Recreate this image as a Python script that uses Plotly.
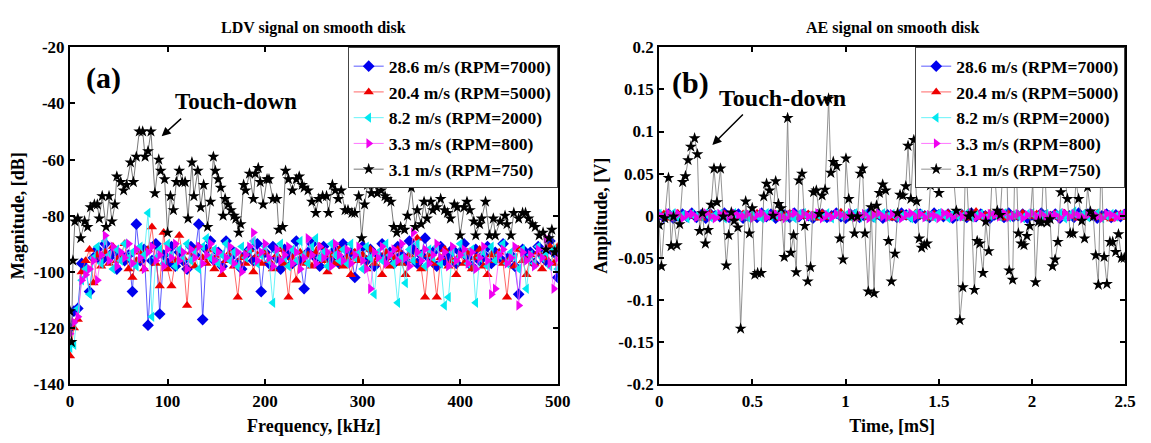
import numpy as np
import plotly.graph_objects as go

# ---------------- Panel (a): LDV spectrum ----------------
ldv_freq_k = [0, 1.5, 3, 5, 8, 11, 15, 18, 21, 25, 28, 30, 33, 37, 40, 43, 46, 48, 52, 55, 58, 62, 65, 68, 71,
              74.5, 77, 80, 83, 87, 91, 93, 97, 100, 103, 106, 109, 112, 115, 118, 121, 125, 127, 131, 134, 137,
              141, 144, 147, 149, 152, 154.5, 157, 159, 162, 165, 168, 170, 173, 175, 178, 180, 184, 188, 190,
              193, 195, 198, 202, 204, 208, 212, 214, 218, 221, 224, 228, 232, 235, 238, 240, 244, 248, 252, 255,
              259, 263, 265, 269, 272, 275, 278, 282, 285, 289, 292, 296, 299, 302, 305, 309, 312, 315, 319, 323,
              325, 329, 332, 335, 339, 343, 346, 350, 354, 356, 360, 363, 366, 370, 372, 376, 380, 384, 387, 390,
              394, 397, 400, 404, 407, 410, 414, 416, 420, 422, 426, 430, 434, 436, 441, 446, 448, 452, 455, 460,
              464, 467, 470, 474, 477, 481, 485, 488, 491, 494, 497, 500]
ldv_mag_k = [-114, -125, -96, -82, -81, -88, -82, -84, -77, -76, -76, -81, -73, -84, -73, -82, -76, -66, -68, -71,
             -69, -61, -68, -59, -50, -50, -59, -57, -50, -72, -60, -64, -67, -86, -73, -78, -68, -64, -68, -68,
             -81, -61, -73, -64, -77, -69, -84, -75, -59, -64, -67, -70, -80, -74, -76, -78, -80, -81, -86, -83,
             -69, -71, -65, -74, -65, -63, -68, -76, -67, -67, -74, -74, -85, -84, -64, -67, -71, -67, -66, -69,
             -70, -71, -75, -79, -74, -73, -73, -79, -69, -71, -74, -71, -78, -78, -79, -79, -73, -88, -76, -69,
             -72, -69, -72, -71, -73, -74, -75, -84, -86, -84, -85, -80, -70, -84, -78, -83, -75, -81, -75, -78,
             -77, -74, -78, -79, -81, -76, -77, -87, -77, -75, -78, -82, -87, -83, -81, -75, -87, -81, -87, -82,
             -80, -83, -87, -79, -81, -79, -79, -81, -83, -84, -87, -86, -92, -88, -85, -93, -92]

ldv_mag_b = [-120, -114, -113, -97, -99, -107, -95, -92, -96, -90, -95, -93, -99, -94, -96, -94, -107, -83, -96,
             -92, -119, -96, -90, -115, -94, -97, -91, -98, -93, -96, -99, -91, -94, -83, -117, -92, -89, -96, -93,
             -98, -89, -95, -93, -97, -99, -94, -92, -96, -90, -107, -93, -97, -91, -95, -99, -92, -94, -97, -89,
             -96, -106, -93, -90, -95, -98, -91, -94, -96, -92, -97, -90, -95, -93, -102, -94, -91, -96, -92, -98,
             -94, -90, -95, -93, -97, -91, -94, -96, -89, -92, -97, -94, -88, -95, -93, -98, -91, -96, -94, -92,
             -97, -93, -90, -95, -98, -92, -96, -94, -91, -97, -93, -95, -90, -96, -94, -98, -108, -92, -95, -93,
             -97, -91, -94, -96, -89, -93, -102]
ldv_mag_r = [-130, -120, -117, -100, -96, -92, -104, -94, -98, -93, -97, -91, -96, -94, -90, -99, -102, -96, -93,
             -99, -92, -84, -97, -105, -86, -99, -105, -96, -87, -95, -112, -93, -98, -91, -95, -97, -92, -99, -94,
             -101, -96, -93, -98, -109, -95, -97, -92, -100, -94, -97, -93, -96, -99, -94, -92, -97, -109, -95,
             -103, -93, -97, -94, -98, -93, -91, -96, -100, -94, -97, -92, -98, -95, -101, -93, -96, -94, -99, -92,
             -97, -95, -101, -93, -98, -95, -92, -97, -101, -94, -96, -88, -99, -109, -94, -97, -109, -95, -92,
             -98, -96, -101, -94, -97, -93, -99, -95, -92, -98, -101, -94, -96, -93, -97, -109, -95, -98, -92, -96,
             -101, -94, -97, -93, -99, -95, -91, -97, -91]
ldv_mag_c = [-127, -126, -113, -103, -99, -108, -95, -91, -97, -89, -94, -99, -92, -96, -90, -95, -93, -98, -91,
             -94, -79, -116, -95, -92, -97, -90, -94, -98, -92, -95, -90, -96, -93, -99, -91, -88, -95, -92, -97,
             -94, -90, -96, -93, -98, -91, -95, -92, -89, -97, -94, -91, -96, -111, -93, -90, -95, -98, -92, -96,
             -89, -94, -97, -91, -88, -95, -93, -98, -90, -94, -96, -92, -97, -90, -95, -93, -99, -91, -95, -108,
             -93, -96, -90, -94, -97, -111, -95, -104, -92, -96, -90, -94, -98, -92, -95, -91, -97, -112, -109, -93,
             -96, -90, -94, -97, -92, -111, -95, -93, -98, -91, -96, -94, -90, -97, -93, -95, -99, -92, -106, -94,
             -97, -91, -95, -93, -98, -92, -99]
ldv_mag_m = [-122, -118, -116, -103, -101, -99, -96, -103, -94, -87, -96, -91, -98, -93, -95, -90, -97, -92, -95,
             -99, -93, -91, -96, -94, -98, -92, -95, -90, -96, -93, -99, -92, -95, -91, -97, -94, -90, -96, -93,
             -99, -95, -91, -97, -93, -100, -94, -91, -86, -96, -93, -90, -95, -98, -92, -96, -94, -91, -97, -93,
             -99, -95, -88, -94, -97, -91, -95, -93, -98, -90, -94, -96, -92, -97, -94, -91, -96, -99, -106, -93,
             -95, -91, -97, -94, -92, -96, -90, -95, -98, -86, -93, -96, -92, -97, -94, -90, -95, -93, -98, -91,
             -96, -94, -92, -97, -93, -99, -95, -91, -96, -108, -106, -94, -92, -97, -95, -91, -112, -93, -96, -94,
             -98, -92, -95, -88, -97, -106, -95]

# ---------------- Panel (b): AE time signal ----------------
ae_time_k = [0, 0.012, 0.03, 0.05, 0.064, 0.077, 0.095, 0.11, 0.126, 0.141, 0.155, 0.17, 0.19, 0.205, 0.217, 0.232,
             0.248, 0.263, 0.279, 0.294, 0.31, 0.329, 0.344, 0.36, 0.373, 0.387, 0.402, 0.422, 0.437, 0.464, 0.484,
             0.499, 0.513, 0.528, 0.547, 0.561, 0.576, 0.592, 0.611, 0.625, 0.64, 0.654, 0.671, 0.689, 0.706, 0.721,
             0.735, 0.75, 0.766, 0.781, 0.797, 0.812, 0.828, 0.843, 0.859, 0.874, 0.89, 0.909, 0.921, 0.934, 0.952,
             0.969, 0.986, 1.002, 1.017, 1.033, 1.048, 1.064, 1.079, 1.091, 1.104, 1.122, 1.137, 1.153, 1.166, 1.182,
             1.199, 1.215, 1.23, 1.246, 1.265, 1.279, 1.292, 1.307, 1.323, 1.335, 1.35, 1.366, 1.381, 1.395, 1.408,
             1.422, 1.437, 1.455, 1.47, 1.486, 1.501, 1.516, 1.532, 1.547, 1.563, 1.578, 1.594, 1.613, 1.629, 1.644,
             1.66, 1.675, 1.691, 1.706, 1.72, 1.737, 1.752, 1.768, 1.785, 1.799, 1.814, 1.83, 1.845, 1.861, 1.878,
             1.896, 1.911, 1.927, 1.942, 1.957, 1.973, 1.988, 2.004, 2.019, 2.035, 2.05, 2.066, 2.081, 2.097, 2.11,
             2.124, 2.139, 2.155, 2.172, 2.19, 2.205, 2.22, 2.236, 2.25, 2.267, 2.282, 2.298, 2.313, 2.329, 2.342,
             2.356, 2.371, 2.387, 2.402, 2.418, 2.433, 2.449, 2.464, 2.48, 2.495]
ae_amp_k = [-0.011, -0.06, -0.003, 0.045, -0.036, -0.001, -0.035, -0.01, 0.04, 0.047, 0.066, 0.082, 0.092, 0.073,
            -0.018, 0.003, -0.033, -0.017, 0.013, 0.056, 0.016, 0.056, -0.001, -0.059, -0.023, 0.004, -0.006, -0.014,
            -0.134, 0.017, -0.021, 0.009, -0.07, -0.068, -0.068, 0.023, 0.038, 0.03, 0.0, 0.041, 0.014, 0.009,
            -0.049, 0.116, -0.044, -0.023, -0.067, 0.042, 0.05, -0.012, -0.078, -0.061, 0.028, 0.03, 0.002, 0.024,
            0.031, 0.139, 0.051, 0.064, 0.059, -0.027, -0.052, 0.068, 0.02, -0.001, -0.021, -0.001, 0.05, 0.056,
            -0.021, -0.09, 0.01, -0.092, 0.012, 0.027, 0.037, 0.03, -0.03, -0.078, -0.045, 0.003, 0.025, 0.024,
            0.035, 0.083, 0.02, 0.09, 0.017, -0.027, -0.038, -0.035, -0.033, 0.036, 0.061, 0.042, 0.027, 0.069,
            0.046, 0.058, 0.046, 0.05, 0.006, -0.124, -0.085, 0.072, -0.001, 0.003, -0.088, -0.03, -0.033, -0.068,
            -0.007, -0.042, 0.042, 0.053, 0.006, 0.001, 0.06, 0.09, -0.065, -0.076, 0.095, -0.021, -0.033, -0.035,
            -0.024, -0.012, 0.04, -0.079, -0.007, -0.008, 0.072, -0.008, -0.004, -0.06, -0.052, -0.031, 0.028, 0.056,
            0.02, -0.021, -0.021, 0.042, 0.02, -0.006, -0.027, 0.034, 0.005, -0.001, -0.047, -0.082, 0.073, -0.049,
            -0.081, -0.031, -0.031, -0.043, -0.022, -0.05, -0.05]

ae_amp_b = [0.001, -0.002, 0.002, -0.003, 0.000, 0.002, -0.001, 0.003, -0.002, 0.001, -0.003, 0.002, 0.000, -0.001,
            0.003, -0.002, 0.001, 0.002, -0.003, 0.000, 0.001, -0.002, 0.003, -0.001, 0.002, -0.003, 0.000, 0.001,
            -0.002, 0.003, -0.001, 0.002, 0.000, -0.003, 0.001, 0.002, -0.002, 0.000, 0.003, -0.001, -0.003, 0.002,
            0.001, -0.002, 0.000, 0.003, -0.001, 0.002, -0.003, 0.001, 0.000, -0.002, 0.003, 0.001, -0.001, -0.003,
            0.002, 0.000, -0.002, 0.003, 0.001, -0.001, 0.002, -0.003, 0.000, 0.001, -0.002, 0.003, -0.001, 0.002,
            0.000, -0.003, 0.001, 0.002, -0.002, 0.003, -0.001, 0.000, 0.002, -0.003, 0.001, -0.002, 0.003, 0.000,
            -0.001, 0.002, -0.003, 0.001, 0.000, -0.002, 0.003, -0.001, 0.002, 0.001, -0.003, 0.000, 0.002, -0.002,
            0.001, -0.001, 0.002]
ae_amp_r = [-0.001, 0.002, -0.003, 0.001, 0.003, -0.002, 0.000, 0.002, -0.001, -0.003, 0.001, 0.003, -0.002, 0.000,
            0.002, -0.001, 0.001, -0.003, 0.002, 0.000, -0.002, 0.003, 0.001, -0.001, 0.000, 0.002, -0.003, 0.001,
            0.003, -0.002, 0.000, -0.001, 0.002, 0.001, -0.003, 0.003, -0.002, 0.000, 0.001, 0.004, -0.001, 0.002,
            -0.003, 0.000, 0.001, -0.002, 0.003, -0.001, 0.002, 0.000, -0.003, 0.001, 0.002, -0.002, 0.000, 0.003,
            -0.001, 0.001, -0.003, 0.002, 0.000, -0.002, 0.003, 0.001, -0.001, 0.002, -0.003, 0.000, 0.005, -0.002,
            0.001, 0.003, -0.001, 0.000, -0.003, 0.002, 0.001, -0.002, 0.003, 0.000, -0.001, 0.002, -0.003, 0.001,
            0.000, 0.002, -0.002, 0.003, -0.001, 0.001, -0.003, 0.000, 0.002, -0.001, 0.003, -0.002, 0.001, -0.004,
            0.000, 0.002, -0.002]
ae_amp_c = [0.002, -0.001, 0.000, 0.003, -0.002, 0.001, -0.003, 0.002, 0.000, -0.001, 0.003, -0.002, 0.001, 0.002,
            -0.003, 0.000, 0.003, -0.001, 0.001, -0.002, 0.002, 0.000, -0.003, 0.003, -0.001, 0.001, 0.002, -0.002,
            0.000, -0.003, 0.002, 0.003, -0.001, 0.000, 0.001, -0.002, 0.003, -0.003, 0.002, 0.000, 0.001, -0.001,
            0.003, -0.002, 0.002, 0.000, -0.003, 0.001, 0.003, -0.001, 0.002, -0.002, 0.000, 0.001, -0.003, 0.003,
            0.002, -0.001, 0.000, -0.002, 0.003, 0.001, -0.003, 0.002, 0.000, -0.001, 0.003, -0.002, 0.001, 0.002,
            -0.003, 0.000, 0.002, -0.001, 0.003, -0.002, 0.001, 0.000, -0.003, 0.002, 0.003, -0.001, 0.000, 0.002,
            -0.002, 0.001, 0.003, -0.003, 0.000, 0.005, -0.001, 0.002, -0.002, 0.001, 0.003, -0.003, 0.000, 0.002,
            -0.001, 0.001, 0.000]
ae_amp_m = [0.001, -0.002, 0.003, -0.001, 0.002, -0.003, 0.001, 0.002, -0.002, 0.000, 0.003, -0.001, -0.003, 0.002,
            0.001, -0.002, 0.003, 0.000, -0.001, 0.002, -0.003, 0.001, 0.003, -0.002, 0.000, 0.002, -0.001, -0.003,
            0.001, 0.003, -0.002, 0.002, -0.001, 0.000, 0.003, -0.003, 0.001, -0.002, 0.002, 0.001, -0.001, 0.003,
            -0.002, 0.000, 0.002, -0.003, 0.001, 0.003, -0.001, -0.002, 0.002, 0.000, -0.003, 0.001, 0.003, -0.001,
            0.002, -0.002, 0.001, 0.000, -0.003, 0.003, 0.001, -0.002, 0.002, -0.001, 0.000, 0.003, -0.002, 0.001,
            -0.003, 0.002, 0.001, -0.001, 0.003, -0.002, 0.000, 0.002, -0.003, 0.001, 0.003, -0.001, 0.002, -0.002,
            0.000, 0.001, -0.003, 0.003, -0.001, 0.002, 0.000, -0.002, 0.001, 0.003, -0.001, -0.003, 0.002, 0.001,
            -0.002, 0.000, 0.002]

series_names = ["28.6 m/s (RPM=7000)", "20.4 m/s (RPM=5000)", "8.2 m/s (RPM=2000)",
                "3.3 m/s (RPM=800)", "3.1 m/s (RPM=750)"]

ldv_yticks = [-140, -120, -100, -80, -60, -40, -20]
ldv_ytick_text = ["-140", "-120", "-100", "-80", "-60", "-40", "-20"]
ldv_xticks = [0, 100, 200, 300, 400, 500]
ldv_xtick_text = ["0", "100", "200", "300", "400", "500"]
ae_yticks = [-0.2, -0.15, -0.1, -0.05, 0, 0.05, 0.1, 0.15, 0.2]
ae_ytick_text = ["-0.2", "-0.15", "-0.1", "-0.05", "0", "0.05", "0.1", "0.15", "0.2"]
ae_xticks = [0, 0.5, 1, 1.5, 2, 2.5]
ae_xtick_text = ["0", "0.5", "1", "1.5", "2", "2.5"]

# ---------------- styling ----------------
W, H = 1151, 443
SERIF = "Liberation Serif"
styles = [
    dict(color="#0000ee", symbol="diamond", line="#3030ff"),
    dict(color="#ee0000", symbol="triangle-up", line="#ff4040"),
    dict(color="#00e8f0", symbol="triangle-left", line="#40f0f8"),
    dict(color="#f000f0", symbol="triangle-right", line="#ff50ff"),
    dict(color="#000000", symbol="star", line="#555555"),
]


def px_x(px):
    return px / W


def px_y(py):
    return 1 - py / H


def bold(labels):
    return ["<b>%s</b>" % s for s in labels]


fig = go.Figure()

left_colored = [ldv_mag_b, ldv_mag_r, ldv_mag_c, ldv_mag_m]
for k, vals in enumerate(left_colored):
    st = styles[k]
    fig.add_trace(go.Scatter(
        x=np.linspace(0, 500, len(vals)), y=vals, mode="lines+markers", name=series_names[k],
        line=dict(color=st["line"], width=0.8),
        marker=dict(symbol=st["symbol"], size=9, color=st["color"], line=dict(width=0)),
        xaxis="x", yaxis="y", legend="legend"))
fig.add_trace(go.Scatter(
    x=ldv_freq_k, y=ldv_mag_k, mode="lines+markers", name=series_names[4],
    line=dict(color=styles[4]["line"], width=0.8),
    marker=dict(symbol="star", size=9, color="#000000", line=dict(width=0)),
    xaxis="x", yaxis="y", legend="legend"))

right_colored = [ae_amp_b, ae_amp_r, ae_amp_c, ae_amp_m]
for k, vals in enumerate(right_colored):
    st = styles[k]
    fig.add_trace(go.Scatter(
        x=np.linspace(0, 2.5, len(vals)), y=vals, mode="lines+markers", name=series_names[k],
        line=dict(color=st["line"], width=0.8),
        marker=dict(symbol=st["symbol"], size=9, color=st["color"], line=dict(width=0)),
        xaxis="x2", yaxis="y2", legend="legend2"))
fig.add_trace(go.Scatter(
    x=ae_time_k, y=ae_amp_k, mode="lines+markers", name=series_names[4],
    line=dict(color="#777777", width=0.8),
    marker=dict(symbol="star", size=9, color="#000000", line=dict(width=0)),
    xaxis="x2", yaxis="y2", legend="legend2"))

tick_font = dict(family=SERIF, size=17, color="black", weight=700)
title_font = dict(family=SERIF, size=18, color="black", weight=700)
axis_common = dict(showline=True, linecolor="black", linewidth=2, mirror="ticks", ticks="inside",
                   ticklen=5, tickwidth=1.5, tickcolor="black", showgrid=False, zeroline=False,
                   tickfont=tick_font, title_font=title_font)

dom_a = [px_x(67), px_x(562)]
dom_b = [px_x(665), px_x(1138)]
dom_y = [px_y(392), px_y(40)]

legend_common = dict(font=dict(family=SERIF, size=17.5, color="black", weight="bold"),
                     bgcolor="white", bordercolor="#444444", borderwidth=1,
                     yanchor="top", xanchor="right", tracegroupgap=0)

fig.update_layout(
    width=W, height=H, margin=dict(l=0, r=0, t=0, b=0),
    paper_bgcolor="white", plot_bgcolor="white", showlegend=True,
    xaxis=dict(domain=dom_a, range=[0, 500], tickvals=ldv_xticks, ticktext=bold(ldv_xtick_text), anchor="y",
               title=dict(text="<b>Frequency, [kHz]</b>", standoff=10), **axis_common),
    yaxis=dict(domain=dom_y, range=[-140, -20], tickvals=ldv_yticks, ticktext=bold(ldv_ytick_text), anchor="x",
               title=dict(text="<b>Magnitude, [dB]</b>", standoff=4), **axis_common),
    xaxis2=dict(domain=dom_b, range=[0, 2.5], tickvals=ae_xticks, ticktext=bold(ae_xtick_text), anchor="y2",
                title=dict(text="<b>Time, [mS]</b>", standoff=10), **axis_common),
    yaxis2=dict(domain=dom_y, range=[-0.2, 0.2], tickvals=ae_yticks, ticktext=bold(ae_ytick_text), anchor="x2",
                title=dict(text="<b>Amplitude, [V]</b>", standoff=6), **axis_common),
    legend=dict(x=px_x(562), y=px_y(40), **legend_common),
    legend2=dict(x=px_x(1138), y=px_y(40), **legend_common),
)


def bold_serif(s):
    return dict(family=SERIF, size=s, color="black")


annotations = [
    dict(text="<b>LDV signal on smooth disk</b>", x=(dom_a[0] + dom_a[1]) / 2, y=px_y(20), font=bold_serif(16)),
    dict(text="<b>AE signal on smooth disk</b>", x=(dom_b[0] + dom_b[1]) / 2, y=px_y(20), font=bold_serif(16)),
    dict(text="<b>(a)</b>", x=px_x(101), y=px_y(72), font=bold_serif(30)),
    dict(text="<b>(b)</b>", x=px_x(697), y=px_y(77), font=bold_serif(30)),
    dict(text="<b>Touch-down</b>", x=px_x(235), y=px_y(97), font=bold_serif(23)),
    dict(text="<b>Touch-down</b>", x=px_x(790), y=px_y(93), font=bold_serif(24)),
]
for a in annotations:
    fig.add_annotation(xref="paper", yref="paper", showarrow=False, xanchor="center", yanchor="middle", **a)

# arrows pointing at the touch-down peaks
fig.add_annotation(xref="paper", yref="paper", x=px_x(160), y=px_y(133), ax=21, ay=-19, text="",
                   showarrow=True, arrowhead=2, arrowsize=1.2, arrowwidth=1.5, arrowcolor="black")
fig.add_annotation(xref="paper", yref="paper", x=px_x(719), y=px_y(142), ax=32, ay=-32, text="",
                   showarrow=True, arrowhead=2, arrowsize=1.2, arrowwidth=1.5, arrowcolor="black")

fig.write_html("out.html")
